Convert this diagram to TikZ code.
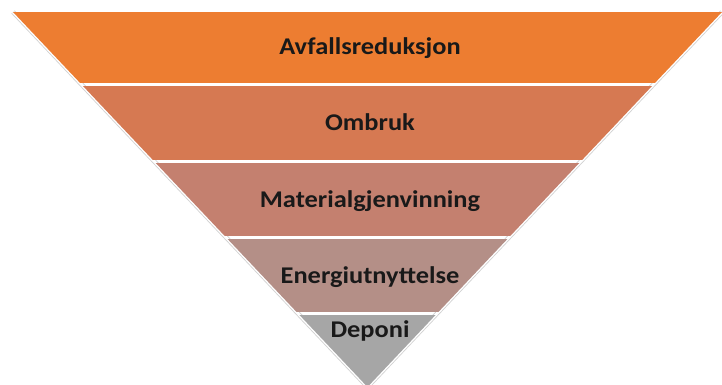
\documentclass[tikz,border=0pt]{standalone}
\usepackage{fontspec}
\setmainfont{Carlito}
\usepackage{tikz}
\usetikzlibrary{calc}
\definecolor{levelA}{HTML}{ED7D31}
\definecolor{levelB}{HTML}{D67952}
\definecolor{levelC}{HTML}{C4806F}
\definecolor{levelD}{HTML}{B48F87}
\definecolor{levelE}{HTML}{A6A6A6}
\tikzstyle{level}=[font=\bfseries\fontsize{24}{28}\selectfont, xscale=1.1, transform shape, anchor=base, inner sep=0pt, text=black!90]

\begin{document}
\begin{tikzpicture}[x=1pt,y=-1pt]
\useasboundingbox (0,0) rectangle (722,385);
\coordinate (tl) at (13,12);
\coordinate (tr) at (722,12);
\coordinate (apex) at (367.5,387);

% faint rim along the slanted sides
\draw[black!18, line width=4.5pt, line join=miter] (tl) -- (apex) -- (tr);
\draw[white, line width=2.8pt, line join=miter] (tl) -- (apex) -- (tr);

\begin{scope}
\clip (tl) -- (tr) -- (apex) -- cycle;
\fill[levelA] (0,12) rectangle (722,83);
\fill[levelB] (0,86) rectangle (722,159.5);
\fill[levelC] (0,162.5) rectangle (722,236);
\fill[levelD] (0,239) rectangle (722,312);
\fill[levelE] (0,315) rectangle (722,390);
\end{scope}

\node[level] (avfall) at (370,55) {Avfallsreduksjon};
\node[level] (ombruk) at (370,131) {Ombruk};
\node[level] (material) at (370,207) {Materialgjenvinning};
\node[level] (energi) at (370,283) {Energiutnyttelse};
\node[level] (deponi) at (370,337) {Deponi};

\end{tikzpicture}
\end{document}
